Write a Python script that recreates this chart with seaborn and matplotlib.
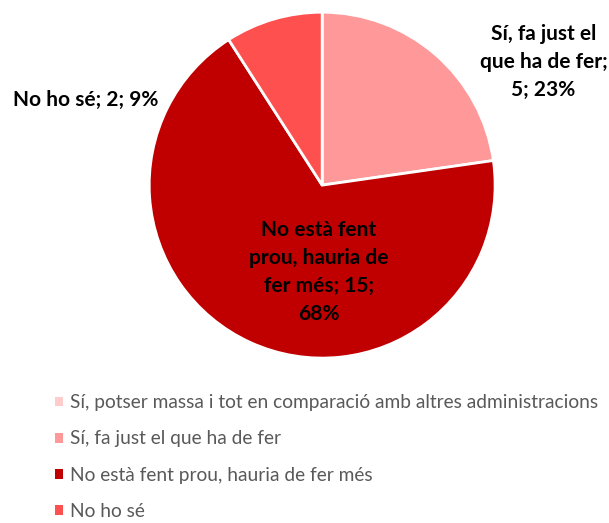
import matplotlib
matplotlib.use("Agg")
import matplotlib.pyplot as plt
import seaborn as sns
from matplotlib.patches import Patch

categories = [
    "Sí, potser massa i tot en comparació amb altres administracions",
    "Sí, fa just el que ha de fer",
    "No està fent prou, hauria de fer més",
    "No ho sé",
]
values = [0, 5, 15, 2]
slice_labels = [
    None,
    "Sí, fa just el\nque ha de fer;\n5; 23%",
    "No està fent\nprou, hauria de\nfer més; 15;\n68%",
    "No ho sé; 2; 9%",
]
colors = ["#FFCCCC", "#FF9999", "#C00000", "#FF5050"]

sns.set_theme(style="white")
plt.rcParams["font.family"] = ["Lato", "DejaVu Sans"]

fig = plt.figure(figsize=(6.09, 5.23), dpi=100)
ax = fig.add_axes([0.245, 0.315, 0.568, 0.662])

ax.pie(values, colors=colors, startangle=90, counterclock=False,
       wedgeprops=dict(edgecolor="white", linewidth=2))
ax.set_xlim(-1, 1)
ax.set_ylim(-1, 1)
ax.set_aspect("equal")

# posicions de les etiquetes (unitats del radi)
label_pos = [None, (1.28, 0.71), (-0.02, -0.50), (-1.37, 0.49)]
for lab, pos in zip(slice_labels, label_pos):
    if lab is None:
        continue
    ax.text(pos[0], pos[1], lab, ha="center", va="center", fontsize=15,
            fontweight="bold", color="#000000", linespacing=1.5,
            clip_on=False)

handles = [Patch(facecolor=c, edgecolor="none") for c in colors]
fig.legend(handles, categories, loc="upper left",
           bbox_to_anchor=(0.062, 0.279), frameon=False,
           handlelength=0.42, handleheight=0.42, handletextpad=0.35,
           labelspacing=1.0, fontsize=13.8, labelcolor="#595959")

fig.savefig("out.png", dpi=100)
